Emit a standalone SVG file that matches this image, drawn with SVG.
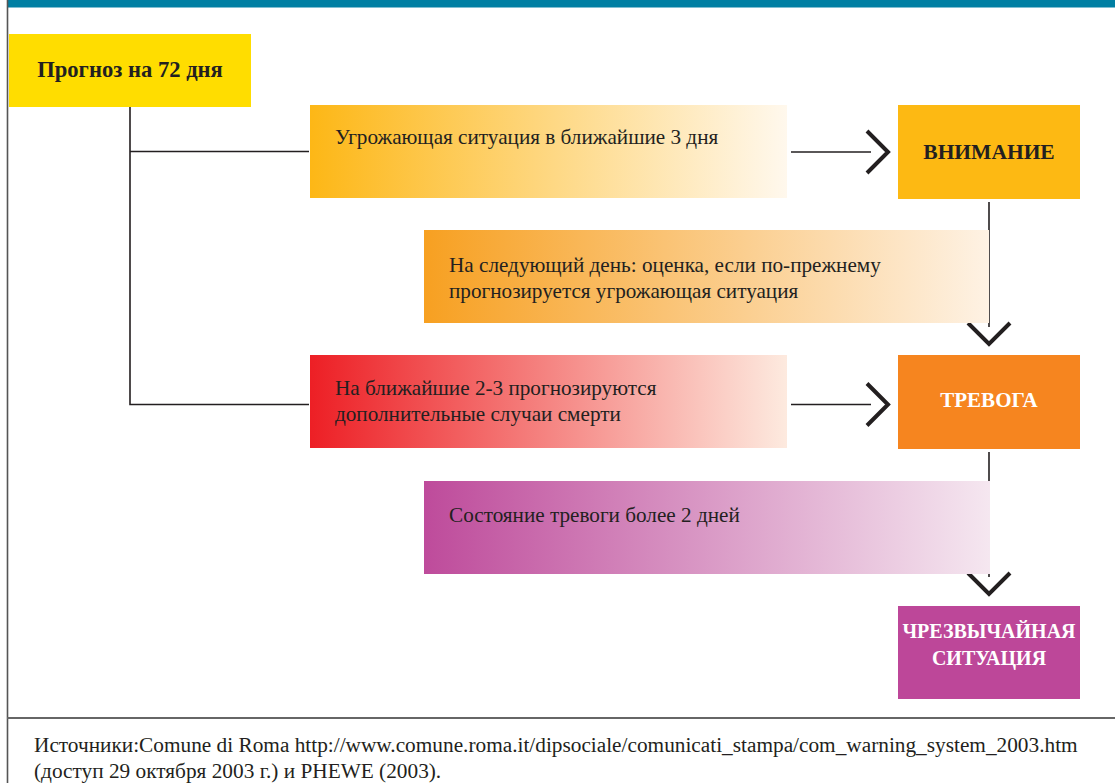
<svg xmlns="http://www.w3.org/2000/svg" width="1115" height="783" viewBox="0 0 1115 783">
  <style>
    .serif { font-family: "Liberation Serif", "DejaVu Serif", serif; }
    .body { font-size: 21.2px; fill: #231f20; }
    .caps { font-weight: bold; text-anchor: middle; }
    .link { stroke: #231f20; stroke-width: 1.6; fill: none; }
    .head { stroke: #231f20; stroke-width: 4; fill: none; stroke-linecap: butt; stroke-linejoin: miter; }
  </style>
  <defs>
    <linearGradient id="gOrange1" x1="0" y1="0" x2="1" y2="0">
      <stop offset="0" stop-color="#fdb716"/>
      <stop offset="1" stop-color="#fff8ed"/>
    </linearGradient>
    <linearGradient id="gOrange2" x1="0" y1="0" x2="1" y2="0">
      <stop offset="0" stop-color="#f7a021"/>
      <stop offset="1" stop-color="#fef2e4"/>
    </linearGradient>
    <linearGradient id="gRed" x1="0" y1="0" x2="1" y2="0">
      <stop offset="0" stop-color="#ed1f25"/>
      <stop offset="1" stop-color="#fdeadf"/>
    </linearGradient>
    <linearGradient id="gMagenta" x1="0" y1="0" x2="1" y2="0">
      <stop offset="0" stop-color="#be4b9b"/>
      <stop offset="1" stop-color="#f5e7f0"/>
    </linearGradient>
  </defs>

  <rect x="0" y="0" width="1115" height="783" fill="#ffffff"/>

  <!-- frame: top band, left rule, footer rule -->
  <rect x="7" y="0" width="1108" height="7.5" fill="#007fa3"/>
  <line x1="7.5" y1="0" x2="7.5" y2="783" stroke="#555555" stroke-width="1.6"/>
  <line x1="7" y1="718" x2="1115" y2="718" stroke="#666666" stroke-width="2"/>

  <!-- connectors -->
  <g id="connectors">
    <path class="link" d="M130,107 V404.5 H309"/>
    <path class="link" d="M130,151.5 H309"/>
    <line class="link" x1="791" y1="152" x2="871" y2="152"/>
    <polyline class="head" points="867,131 888,152 867,173"/>
    <line class="link" x1="791" y1="404.5" x2="871" y2="404.5"/>
    <polyline class="head" points="867,383.5 888,404.5 867,425.5"/>
    <line class="link" x1="989" y1="202" x2="989" y2="327"/>
    <polyline class="head" points="968,323 989,344 1010,323"/>
    <line class="link" x1="989" y1="452" x2="989" y2="577"/>
    <polyline class="head" points="968,573 989,594 1010,573"/>
  </g>

  <!-- start node -->
  <g id="forecast">
    <rect x="9" y="34" width="242" height="73" fill="#ffdd00"/>
    <text class="serif" x="130" y="77" font-size="22.6" font-weight="bold" text-anchor="middle" fill="#231f20">Прогноз на 72 дня</text>
  </g>

  <!-- condition bands -->
  <g id="cond-threat">
    <rect x="310" y="105" width="477" height="93" fill="url(#gOrange1)"/>
    <text class="serif body" x="335" y="144">Угрожающая ситуация в ближайшие 3 дня</text>
  </g>
  <g id="cond-next-day">
    <rect x="424" y="230" width="565" height="93" fill="url(#gOrange2)"/>
    <text class="serif body" x="449" y="272">На следующий день: оценка, если по-прежнему</text>
    <text class="serif body" x="449" y="298">прогнозируется угрожающая ситуация</text>
  </g>
  <g id="cond-deaths">
    <rect x="310" y="355" width="477" height="93" fill="url(#gRed)"/>
    <text class="serif body" x="335" y="395">На ближайшие 2-3 прогнозируются</text>
    <text class="serif body" x="335" y="421">дополнительные случаи смерти</text>
  </g>
  <g id="cond-alarm-days">
    <rect x="424" y="481" width="566" height="93" fill="url(#gMagenta)"/>
    <text class="serif body" x="449" y="522">Состояние тревоги более 2 дней</text>
  </g>

  <!-- alert levels -->
  <g id="level-attention">
    <rect x="898" y="105" width="182" height="94" fill="#fdb913"/>
    <text class="serif caps" x="989" y="159" font-size="21.5" fill="#231f20">ВНИМАНИЕ</text>
  </g>
  <g id="level-alarm">
    <rect x="898" y="355" width="182" height="94" fill="#f6851f"/>
    <text class="serif caps" x="989" y="407" font-size="21" fill="#ffffff">ТРЕВОГА</text>
  </g>
  <g id="level-emergency">
    <rect x="898" y="606" width="182" height="93" fill="#bd4799"/>
    <text class="serif caps" x="989" y="638" font-size="20" fill="#ffffff">ЧРЕЗВЫЧАЙНАЯ</text>
    <text class="serif caps" x="989" y="665" font-size="20" fill="#ffffff">СИТУАЦИЯ</text>
  </g>

  <!-- sources -->
  <g id="sources">
    <text class="serif" x="34" y="752" font-size="21.3" fill="#231f20">Источники:Comune di Roma http://www.comune.roma.it/dipsociale/comunicati_stampa/com_warning_system_2003.htm</text>
    <text class="serif" x="34" y="778" font-size="21.3" fill="#231f20">(доступ 29 октября 2003 г.) и PHEWE (2003).</text>
  </g>
</svg>
